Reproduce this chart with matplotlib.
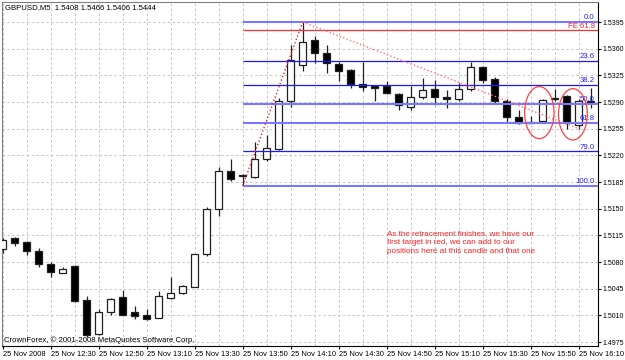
import matplotlib
matplotlib.use('Agg')
import matplotlib.pyplot as plt
from matplotlib.patches import Ellipse

# ---- data (GBPUSD M5, bar index 0 = 25 Nov 12:10) ----
opens = [1.5097, 1.5111, 1.5106, 1.5094, 1.5078, 1.5066, 1.5075, 1.5030, 1.4986, 1.5014,
         1.5034, 1.5014, 1.5011, 1.5007, 1.5033, 1.5040, 1.5047, 1.5090, 1.5150, 1.5199,
         1.5193, 1.5191, 1.5215, 1.5229, 1.5292, 1.5339, 1.5372, 1.5355, 1.5340, 1.5332,
         1.5314, 1.5311, 1.5311, 1.5301, 1.5284, 1.5297, 1.5307, 1.5297, 1.5294, 1.5307,
         1.5336, 1.5320, 1.5292, 1.5270, 1.5263, 1.5265, 1.5295, 1.5298, 1.5260, 1.5290]
highs = [1.5111, 1.5113, 1.5107, 1.5098, 1.5080, 1.5074, 1.5076, 1.5036, 1.5018, 1.5033,
         1.5043, 1.5022, 1.5018, 1.5042, 1.5060, 1.5050, 1.5090, 1.5152, 1.5205, 1.5215,
         1.5196, 1.5237, 1.5247, 1.5295, 1.5365, 1.5395, 1.5377, 1.5365, 1.5342, 1.5334,
         1.5342, 1.5312, 1.5317, 1.5302, 1.5311, 1.5321, 1.5319, 1.5306, 1.5315, 1.5342,
         1.5337, 1.5323, 1.5294, 1.5279, 1.5272, 1.5294, 1.5307, 1.5299, 1.5294, 1.5308]
lows = [1.5092, 1.5101, 1.5089, 1.5073, 1.5061, 1.5065, 1.5028, 1.4982, 1.4984, 1.5011,
        1.5010, 1.5005, 1.5004, 1.5007, 1.5032, 1.5038, 1.5047, 1.5088, 1.5141, 1.5186,
        1.5180, 1.5190, 1.5213, 1.5227, 1.5283, 1.5331, 1.5341, 1.5328, 1.5317, 1.5309,
        1.5304, 1.5292, 1.5301, 1.5280, 1.5280, 1.5294, 1.5286, 1.5282, 1.5291, 1.5305,
        1.5315, 1.5288, 1.5264, 1.5261, 1.5262, 1.5264, 1.5291, 1.5255, 1.5255, 1.5282]
closes = [1.5109, 1.5105, 1.5094, 1.5078, 1.5067, 1.5071, 1.5029, 1.4984, 1.5015, 1.5032,
          1.5011, 1.5009, 1.5005, 1.5036, 1.5040, 1.5048, 1.5090, 1.5150, 1.5200, 1.5189,
          1.5194, 1.5215, 1.5230, 1.5292, 1.5345, 1.5369, 1.5355, 1.5341, 1.5331, 1.5314,
          1.5310, 1.5309, 1.5302, 1.5286, 1.5297, 1.5306, 1.5296, 1.5294, 1.5307, 1.5336,
          1.5319, 1.5291, 1.5270, 1.5263, 1.5263, 1.5293, 1.5294, 1.5263, 1.5291, 1.5291]

time_labels = ["25 Nov 2008", "25 Nov 12:30", "25 Nov 12:50", "25 Nov 13:10", "25 Nov 13:30",
               "25 Nov 13:50", "25 Nov 14:10", "25 Nov 14:30", "25 Nov 14:50", "25 Nov 15:10",
               "25 Nov 15:30", "25 Nov 15:50", "25 Nov 16:10"]
label_bars = [0, 4, 8, 12, 16, 20, 24, 28, 32, 36, 40, 44, 48]
price_ticks = [1.4975, 1.5010, 1.5045, 1.5080, 1.5115, 1.5150, 1.5185,
               1.5220, 1.5255, 1.5290, 1.5325, 1.5360, 1.5395]

fib_high = 1.5395
fib_low = 1.5180
fib_levels = [0.0, 23.6, 38.2, 50.0, 61.8, 79.0, 100.0]
fe_price = 1.5384
fib_start_bar = 20
zigzag_bars = [20, 25, 48]
zigzag_prices = [1.5180, 1.5395, 1.5255]

title_text = "GBPUSD,M5  1.5408 1.5466 1.5406 1.5444"
copyright_text = "CrownForex, \u00a9 2001-2008 MetaQuotes Software Corp."
note_text = ("As the retracement finishes, we have our\n"
             "first target in red, we can add to our\n"
             "positions here at this candle and that one")

# ---- figure ----
plt.rcParams['font.family'] = ['Liberation Sans', 'DejaVu Sans']
W, H = 625, 360
fig = plt.figure(figsize=(W / 100, H / 100), dpi=100)
fig.patch.set_facecolor('white')
ax = fig.add_axes([2 / W, 14 / H, 596 / W, 344 / H])
ax.set_facecolor('white')

xmin, xmax = -0.06, 49.61
ymin, ymax = 1.49698, 1.54213
ax.set_xlim(xmin, xmax)
ax.set_ylim(ymin, ymax)

grid_kw = dict(color='#c4c4c4', lw=0.7, ls=(0, (2.5, 2.5)), zorder=0)
for b in range(0, 50, 2):
    ax.axvline(b, **grid_kw)
for p in price_ticks:
    ax.axhline(p, **grid_kw)

# candles
n = len(opens)
xs = list(range(n))
ax.vlines(xs, lows, highs, color='#202020', lw=0.9, zorder=2)
for i in xs:
    o, c = opens[i], closes[i]
    bottom = min(o, c)
    h = max(abs(c - o), 0.00002)
    fc = 'white' if c >= o else 'black'
    ax.bar(i, h, bottom=bottom, width=0.62, facecolor=fc,
           edgecolor='#202020', linewidth=0.9, zorder=3)

# fibonacci retracement
x_end = xmax
for lvl in fib_levels:
    p = fib_high - lvl / 100.0 * (fib_high - fib_low)
    light = lvl in (0.0, 50.0, 61.8, 100.0)
    ax.hlines(p, fib_start_bar, x_end, color='#7878ff' if light else '#1a1aff',
              lw=1.5 if light else 0.9, zorder=4)
    ax.text(49.33, p + 0.00012, f"{lvl:.1f}", color='#2020ff', fontsize=5.6,
            ha='right', va='bottom', zorder=5)
ax.hlines(fe_price, fib_start_bar, x_end, color='#ff3030', lw=0.9, zorder=4)
ax.text(49.33, fe_price + 0.00012, "FE 61.8", color='#ff2020', fontsize=5.6,
        ha='right', va='bottom', zorder=5)

# zigzag dotted
ax.plot(zigzag_bars[:2], zigzag_prices[:2], color='#ff2020', lw=1.0,
        ls=(0, (1, 1.6)), zorder=5)
ax.plot(zigzag_bars[1:], zigzag_prices[1:], color='#ff7070', lw=1.0,
        ls=(0, (1, 1.6)), zorder=5)

# ellipses
ax.add_patch(Ellipse((44.72, 1.52761), 2.45, 0.00683, angle=0, fill=False,
                     edgecolor='#ff4040', lw=0.9, zorder=6))
ax.add_patch(Ellipse((47.52, 1.52739), 2.40, 0.00674, angle=0, fill=False,
                     edgecolor='#ff4040', lw=0.9, zorder=6))

# annotation
ax.text(32.0, 1.51215, note_text, color='#ff2020', fontsize=5.9,
        ha='left', va='top', linespacing=1.4, zorder=6)

# axes styling
for s in ['left', 'top']:
    ax.spines[s].set_color('#808080')
    ax.spines[s].set_linewidth(0.8)
for s in ['right', 'bottom']:
    ax.spines[s].set_color('black')
    ax.spines[s].set_linewidth(0.8)

ax.yaxis.tick_right()
ax.set_yticks(price_ticks)
ax.set_yticklabels([f"{p:.4f}" for p in price_ticks])
ax.tick_params(axis='y', length=2.2, width=0.8, pad=1, labelsize=5.0, colors='black')
ax.set_xticks(label_bars)
ax.set_xticklabels(time_labels, ha='left')
ax.tick_params(axis='x', length=2.2, width=0.8, pad=1.5, labelsize=5.4, colors='black')

fig.text(5 / W, 1 - 8 / H, title_text, fontsize=5.6, va='center', ha='left')
fig.text(4 / W, 1 - 340 / H, copyright_text, fontsize=5.6, va='center', ha='left')

fig.savefig('out.png', dpi=100, facecolor='white')
